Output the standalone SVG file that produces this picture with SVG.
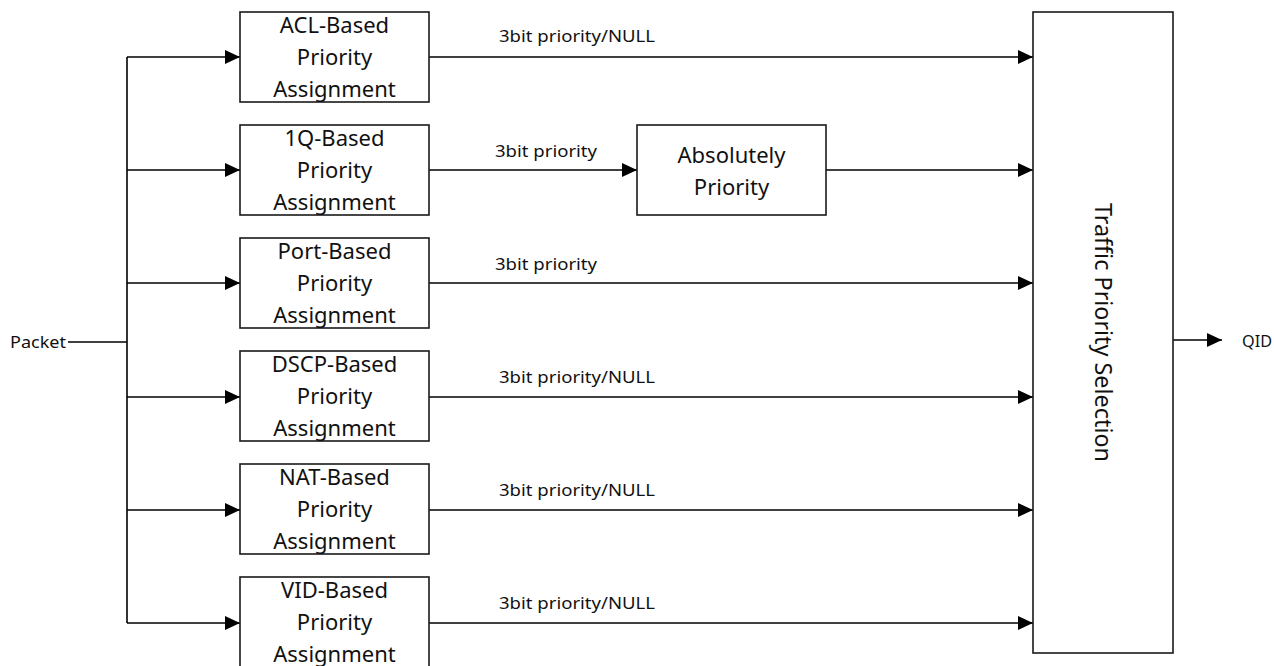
<svg xmlns="http://www.w3.org/2000/svg" width="1274" height="666" viewBox="0 0 1274 666">
<style>
.box{fill:#ffffff;stroke:#1a1a1a;stroke-width:1.6}
.ln{fill:none;stroke:#000;stroke-width:1.6}
.bt{font-family:"Noto Sans","Open Sans",sans-serif;font-size:22px;fill:#111;text-anchor:middle}
.lb{font-family:"Noto Sans","Open Sans",sans-serif;font-size:16px;fill:#111}
.tt{font-family:"Noto Sans","Open Sans",sans-serif;font-size:23px;fill:#111;text-anchor:middle}
</style>
<defs>
<marker id="ah" markerUnits="userSpaceOnUse" markerWidth="16" markerHeight="14" refX="15" refY="7" orient="auto">
<path d="M0,0 L15,7 L0,14 Z" fill="#000"/>
</marker>
</defs>
<rect width="1274" height="666" fill="#fff"/>
<g id="connectors">
<path class="ln" d="M68,342 H127"/>
<path class="ln" d="M127,57 V623"/>
<path class="ln" d="M127,57 H240" marker-end="url(#ah)"/>
<path class="ln" d="M127,170 H240" marker-end="url(#ah)"/>
<path class="ln" d="M127,283 H240" marker-end="url(#ah)"/>
<path class="ln" d="M127,397 H240" marker-end="url(#ah)"/>
<path class="ln" d="M127,510 H240" marker-end="url(#ah)"/>
<path class="ln" d="M127,623 H240" marker-end="url(#ah)"/>
<path class="ln" d="M429,57 H1033" marker-end="url(#ah)"/>
<path class="ln" d="M429,170 H637" marker-end="url(#ah)"/>
<path class="ln" d="M826,170 H1033" marker-end="url(#ah)"/>
<path class="ln" d="M429,283 H1033" marker-end="url(#ah)"/>
<path class="ln" d="M429,397 H1033" marker-end="url(#ah)"/>
<path class="ln" d="M429,510 H1033" marker-end="url(#ah)"/>
<path class="ln" d="M429,623 H1033" marker-end="url(#ah)"/>
<path class="ln" d="M1173,340 H1222" marker-end="url(#ah)"/>
<text class="lb" x="499" y="42" textLength="156" lengthAdjust="spacingAndGlyphs">3bit priority/NULL</text>
<text class="lb" x="495" y="157" textLength="102" lengthAdjust="spacingAndGlyphs">3bit priority</text>
<text class="lb" x="495" y="270" textLength="102" lengthAdjust="spacingAndGlyphs">3bit priority</text>
<text class="lb" x="499" y="383" textLength="156" lengthAdjust="spacingAndGlyphs">3bit priority/NULL</text>
<text class="lb" x="499" y="496" textLength="156" lengthAdjust="spacingAndGlyphs">3bit priority/NULL</text>
<text class="lb" x="499" y="609" textLength="156" lengthAdjust="spacingAndGlyphs">3bit priority/NULL</text>
</g>
<g id="packet"><text class="lb" x="10" y="348" font-size="17" textLength="56" lengthAdjust="spacingAndGlyphs">Packet</text></g>
<g id="qid"><text class="lb" x="1242" y="347" font-size="17" textLength="30" lengthAdjust="spacingAndGlyphs">QID</text></g>
<g id="acl">
<rect class="box" x="240" y="12" width="189" height="90"/>
<text class="bt" x="334.5" y="33">ACL-Based</text>
<text class="bt" x="334.5" y="65">Priority</text>
<text class="bt" x="334.5" y="97">Assignment</text>
</g>
<g id="q1">
<rect class="box" x="240" y="125" width="189" height="90"/>
<text class="bt" x="334.5" y="146">1Q-Based</text>
<text class="bt" x="334.5" y="178">Priority</text>
<text class="bt" x="334.5" y="210">Assignment</text>
</g>
<g id="port">
<rect class="box" x="240" y="238" width="189" height="90"/>
<text class="bt" x="334.5" y="259">Port-Based</text>
<text class="bt" x="334.5" y="291">Priority</text>
<text class="bt" x="334.5" y="323">Assignment</text>
</g>
<g id="dscp">
<rect class="box" x="240" y="351" width="189" height="90"/>
<text class="bt" x="334.5" y="372">DSCP-Based</text>
<text class="bt" x="334.5" y="404">Priority</text>
<text class="bt" x="334.5" y="436">Assignment</text>
</g>
<g id="nat">
<rect class="box" x="240" y="464" width="189" height="90"/>
<text class="bt" x="334.5" y="485">NAT-Based</text>
<text class="bt" x="334.5" y="517">Priority</text>
<text class="bt" x="334.5" y="549">Assignment</text>
</g>
<g id="vid">
<rect class="box" x="240" y="577" width="189" height="90"/>
<text class="bt" x="334.5" y="598">VID-Based</text>
<text class="bt" x="334.5" y="630">Priority</text>
<text class="bt" x="334.5" y="662">Assignment</text>
</g>
<g id="absolute">
<rect class="box" x="637" y="125" width="189" height="90"/>
<text class="bt" x="731.5" y="163">Absolutely</text>
<text class="bt" x="731.5" y="195">Priority</text>
</g>
<g id="traffic">
<rect class="box" x="1033" y="12" width="140" height="641" fill="#fdfefe"/>
<text class="tt" transform="translate(1095,332.5) rotate(90)" x="0" y="0" textLength="259" lengthAdjust="spacingAndGlyphs">Traffic Priority Selection</text>
</g>
</svg>
